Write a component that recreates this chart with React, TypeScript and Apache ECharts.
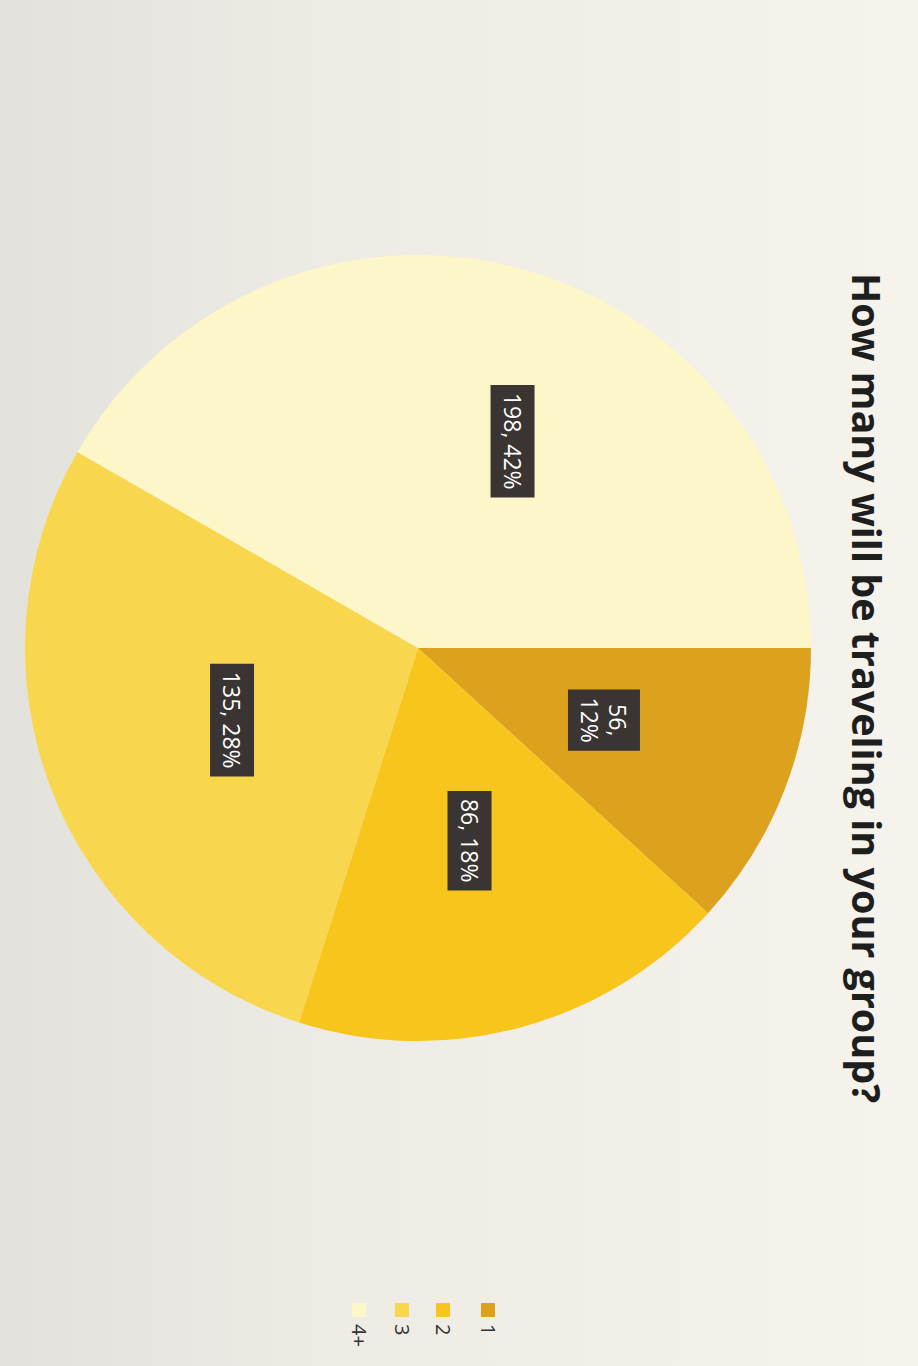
import React, { useEffect, useRef } from "react";
import * as echarts from "echarts";

const title = "How many will be traveling in your group?";
const categories = ["1", "2", "3", "4+"];
const counts = [56, 86, 135, 198];
const colors = ["#DCA21E", "#F8C51C", "#F8D74E", "#FCF6C8"];
const wrappedLabels = ["1"];

export default function App() {
  const ref = useRef<HTMLDivElement>(null);
  useEffect(() => {
    document.body.style.margin = "0";
    const chart = echarts.init(ref.current!, undefined, { renderer: "svg" });
    const total = counts.reduce((a, b) => a + b, 0);
    const legendX = [488, 443, 402, 359];
    const legendGraphics: any[] = [];
    categories.forEach((c, i) => {
      legendGraphics.push({
        type: "rect",
        shape: { x: legendX[i] - 7, y: 1303, width: 14, height: 14 },
        style: { fill: colors[i] },
      });
      legendGraphics.push({
        type: "text",
        x: legendX[i],
        y: 1324,
        rotation: -Math.PI / 2,
        style: {
          text: c,
          fill: "#333",
          font: "20px 'Open Sans', sans-serif",
          align: "left",
          verticalAlign: "middle",
        },
      });
    });
    chart.setOption({
      animation: false,
      backgroundColor: {
        type: "linear",
        x: 0,
        y: 0,
        x2: 1,
        y2: 0,
        colorStops: [
          { offset: 0, color: "#E2E1DC" },
          { offset: 0.35, color: "#EDEBE4" },
          { offset: 1, color: "#F5F3EC" },
        ],
      },
      graphic: [
        {
          type: "text",
          x: 867,
          y: 688,
          rotation: -Math.PI / 2,
          style: {
            text: title,
            fill: "#1E1E1E",
            font: "bold 39.5px 'Open Sans', sans-serif",
            align: "center",
            verticalAlign: "middle",
          },
        },
        ...legendGraphics,
      ],
      series: [
        {
          type: "pie",
          center: [418, 648],
          radius: 393,
          startAngle: 0,
          clockwise: true,
          avoidLabelOverlap: false,
          data: categories.map((c, i) => ({
            name: c,
            value: counts[i],
            itemStyle: { color: colors[i] },
            ...(c === "4+" ? { label: { offset: [-14, -43] } } : {}),
          })),
          itemStyle: { borderWidth: 0 },
          emphasis: { disabled: true },
          label: {
            show: true,
            position: "inside",
            rotate: -90,
            color: "#FFFFFF",
            backgroundColor: "#3A3532",
            padding: [8, 8],
            fontSize: 23,
            lineHeight: 28,
            fontFamily: "'Open Sans', sans-serif",
            formatter: (p: any) => {
              const pct = Math.round((p.value / total) * 100);
              const sep = wrappedLabels.includes(p.name) ? ",\n" : ", ";
              return `${p.value}${sep}${pct}%`;
            },
          },
          labelLine: { show: false },
        },
      ],
    });
    return () => chart.dispose();
  }, []);
  return <div ref={ref} style={{ width: 918, height: 1366 }} />;
}
